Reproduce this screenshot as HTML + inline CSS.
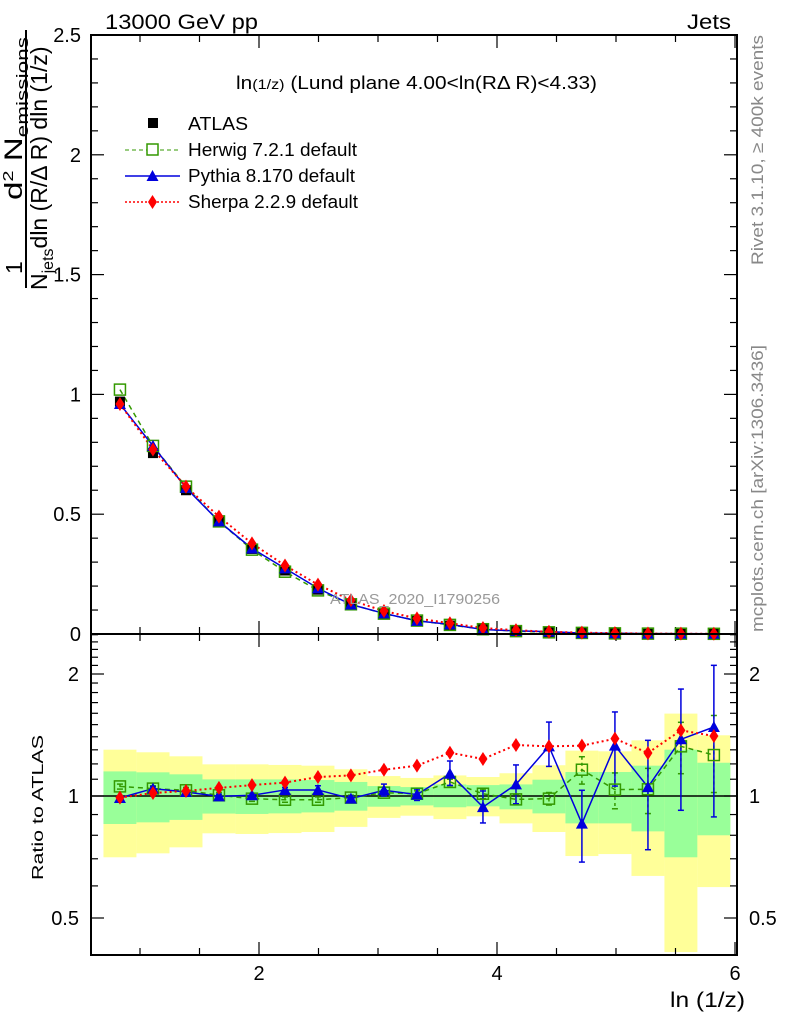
<!DOCTYPE html>
<html><head><meta charset="utf-8"><style>
html,body{margin:0;padding:0;background:#fff;}
svg{display:block;font-family:"Liberation Sans",sans-serif;}
</style></head><body>
<svg id="chart" width="786" height="1024" viewBox="0 0 786 1024">
<g id="bands"></g>
<g id="grid"></g>
<g id="series"></g>
<rect x="91" y="35" width="646" height="599" fill="none" stroke="#000" stroke-width="2"/>
<rect x="91" y="634" width="646" height="321" fill="none" stroke="#000" stroke-width="2"/>
<text x="105" y="29" font-size="21" textLength="153" lengthAdjust="spacingAndGlyphs">13000 GeV pp</text>
<text x="687" y="29" font-size="21" textLength="44" lengthAdjust="spacingAndGlyphs">Jets</text>
<text x="236" y="89" font-size="18" textLength="361" lengthAdjust="spacingAndGlyphs">ln<tspan font-size="14">(1/z)</tspan> (Lund plane 4.00&lt;ln(RΔ R)&lt;4.33)</text>
<text x="330" y="604" font-size="15" fill="#999" textLength="170" lengthAdjust="spacingAndGlyphs">ATLAS_2020_I1790256</text>
<text transform="translate(763,265) rotate(-90)" font-size="17" fill="#888" textLength="230" lengthAdjust="spacingAndGlyphs">Rivet 3.1.10, ≥ 400k events</text>
<text transform="translate(763,632) rotate(-90)" font-size="17" fill="#888" textLength="287" lengthAdjust="spacingAndGlyphs">mcplots.cern.ch [arXiv:1306.3436]</text>
<g font-size="23">
<text transform="translate(22,274) rotate(-90)">1</text>
<text transform="translate(22,200) rotate(-90)" font-size="25" textLength="163" lengthAdjust="spacingAndGlyphs">d<tspan font-size="15" dy="-9">2</tspan><tspan dy="9"> N</tspan><tspan font-size="17" dy="6">emissions</tspan></text>
<line x1="26" y1="30" x2="26" y2="288" stroke="#000" stroke-width="2"/>
<text transform="translate(47,290) rotate(-90)">N<tspan font-size="16" dy="6">jets</tspan><tspan dy="-6">dln (R/Δ R) dln (1/z)</tspan></text>
</g>
<text transform="translate(43,880) rotate(-90)" font-size="16" textLength="145" lengthAdjust="spacingAndGlyphs">Ratio to ATLAS</text>
<text x="670" y="1007" font-size="21" textLength="75" lengthAdjust="spacingAndGlyphs">ln (1/z)</text>
<g font-size="18">
<rect x="148" y="118" width="10" height="10" fill="#000"/>
<text x="188" y="130" textLength="60" lengthAdjust="spacingAndGlyphs">ATLAS</text>
<line x1="125" y1="150" x2="180" y2="150" stroke="#339900" stroke-dasharray="4,3"/>
<rect x="147" y="144" width="11" height="11" fill="#fff" stroke="#339900" stroke-width="1.5"/>
<text x="188" y="156" textLength="169" lengthAdjust="spacingAndGlyphs">Herwig 7.2.1 default</text>
<line x1="125" y1="176" x2="180" y2="176" stroke="#0000dd" stroke-width="1.5"/>
<polygon points="152.5,170 158.5,181 146.5,181" fill="#0000dd"/>
<text x="188" y="182" textLength="167" lengthAdjust="spacingAndGlyphs">Pythia 8.170 default</text>
<line x1="125" y1="202" x2="180" y2="202" stroke="#ff0000" stroke-width="1.5" stroke-dasharray="2,2"/>
<polygon points="152.5,195 157,202 152.5,209 148,202" fill="#ff0000"/>
<text x="188" y="208" textLength="170" lengthAdjust="spacingAndGlyphs">Sherpa 2.2.9 default</text>
</g>
</svg>
<script>
const binEdges=[0.693,0.970,1.248,1.525,1.802,2.080,2.357,2.634,2.911,3.189,3.466,3.743,4.021,4.298,4.575,4.852,5.130,5.407,5.684,5.961];
const atlasMain=[0.97,0.755,0.60,0.47,0.355,0.265,0.185,0.125,0.083,0.055,0.035,0.02,0.012,0.007,0.004,0.0025,0.0015,0.001,0.0006];
const herwigMain=[1.02,0.785,0.615,0.47,0.352,0.26,0.182,0.124,0.085,0.056,0.038,0.02,0.012,0.007,0.0046,0.0026,0.0016,0.0013,0.0008];
const pythiaMain=[0.96,0.785,0.61,0.47,0.357,0.274,0.191,0.123,0.086,0.055,0.04,0.019,0.013,0.01,0.0034,0.0033,0.0016,0.0014,0.0009];
const sherpaMain=[0.96,0.77,0.615,0.49,0.378,0.286,0.206,0.141,0.096,0.065,0.045,0.025,0.016,0.0093,0.0055,0.0035,0.0019,0.0015,0.0008];
const yellowHi=[1.301,1.282,1.253,1.197,1.197,1.193,1.188,1.164,1.120,1.108,1.124,1.114,1.138,1.191,1.294,1.289,1.372,1.597,1.412];
const greenHi=[1.150,1.144,1.131,1.099,1.099,1.099,1.095,1.083,1.058,1.052,1.068,1.064,1.068,1.097,1.146,1.146,1.188,1.301,1.208];
const greenLo=[0.853,0.861,0.873,0.905,0.903,0.906,0.911,0.920,0.941,0.948,0.938,0.943,0.927,0.906,0.856,0.856,0.818,0.706,0.800];
const yellowLo=[0.706,0.722,0.747,0.809,0.806,0.810,0.815,0.839,0.883,0.894,0.877,0.891,0.856,0.815,0.711,0.719,0.635,0.412,0.596];
const herwigRatio=[1.056,1.043,1.033,1.004,0.985,0.979,0.979,0.991,1.019,1.013,1.083,1.013,0.981,0.985,1.161,1.037,1.039,1.326,1.262];
const pythiaRatio=[0.989,1.043,1.023,0.998,1.004,1.035,1.035,0.985,1.033,1.008,1.135,0.939,1.068,1.326,0.855,1.331,1.052,1.380,1.480];
const sherpaRatio=[0.991,1.017,1.029,1.047,1.064,1.079,1.114,1.124,1.161,1.188,1.279,1.234,1.336,1.326,1.331,1.385,1.277,1.452,1.406];
const herwigErrHi=[1.07,1.06,1.05,1.02,1.0,0.995,0.995,1.005,1.035,1.03,1.10,1.04,1.01,1.02,1.25,1.14,1.17,1.52,1.58];
const herwigErrLo=[1.04,1.03,1.02,0.99,0.97,0.965,0.965,0.975,1.0,0.995,1.06,0.985,0.955,0.95,1.07,0.93,0.905,1.135,1.02];
const pythiaErrHi=[1.0,1.055,1.035,1.01,1.016,1.05,1.06,1.0,1.07,1.04,1.220,1.029,1.193,1.522,1.033,1.612,1.372,1.836,2.101];
const pythiaErrLo=[0.975,1.03,1.01,0.985,0.99,1.02,1.015,0.97,1.0,0.975,1.062,0.858,0.957,1.183,0.687,1.058,0.737,0.922,0.888];
const xTicksMajor=[2,4,6];
const yMainTicks=[0,0.5,1,1.5,2,2.5];
const yMainLabels=["0","0.5","1","1.5","2","2.5"];
const ratioTicks=[0.5,1,2];
const ratioLabels=["0.5","1","2"];

const NS="http://www.w3.org/2000/svg";
const X=v=>21+119*v;
const YM=v=>634-239.6*v;
const YR=r=>796-122*Math.log2(r);
const clipR=y=>Math.max(634,Math.min(955,y));
function mk(parent,tag,attrs){const e=document.createElementNS(NS,tag);for(const k in attrs)e.setAttribute(k,attrs[k]);parent.appendChild(e);return e;}
const gB=document.getElementById('bands'),gG=document.getElementById('grid'),gS=document.getElementById('series');

for(let i=0;i<yellowHi.length;i++){
  const x1=X(binEdges[i]),x2=X(binEdges[i+1]);
  let r=mk(gB,'rect',{x:x1,y:clipR(YR(yellowHi[i])),width:x2-x1,height:clipR(YR(yellowLo[i]))-clipR(YR(yellowHi[i])),fill:'#ffff99'});
  
  
  r=mk(gB,'rect',{x:x1,y:YR(greenHi[i]),width:x2-x1,height:YR(greenLo[i])-YR(greenHi[i]),fill:'#99ff99'});
  
  
}
let ul=mk(gG,'line',{x1:91,x2:737,y1:YR(1),y2:YR(1),stroke:'#000','stroke-width':1.5});



for(let v=1;v<=6.001;v+=0.5){
  const major=xTicksMajor.some(m=>Math.abs(m-v)<1e-6);
  const L=major?13:7;
  for(const [yb,yt] of [[634,35],[955,634]]){
    mk(gG,'line',{x1:X(v),x2:X(v),y1:yb,y2:yb-L,stroke:'#000','stroke-width':1.2});
    mk(gG,'line',{x1:X(v),x2:X(v),y1:yt,y2:yt+L,stroke:'#000','stroke-width':1.2});
  }
}
xTicksMajor.forEach(v=>{const t=mk(gG,'text',{x:X(v),y:980,'font-size':20,'text-anchor':'middle'});t.textContent=v;

});
for(let k=0;k<=25;k++){const v=k/10;const major=k%5===0;const L=major?13:7;
  mk(gG,'line',{x1:91,x2:91+L,y1:YM(v),y2:YM(v),stroke:'#000','stroke-width':1.2});
  mk(gG,'line',{x1:737,x2:737-L,y1:YM(v),y2:YM(v),stroke:'#000','stroke-width':1.2});}
yMainTicks.forEach((v,i)=>{const t=mk(gG,'text',{x:81,y:YM(v)+7,'font-size':20,'text-anchor':'end'});t.textContent=yMainLabels[i];

});
for(let k=5;k<=25;k++){const v=k/10;if(YR(v)<634||YR(v)>955)continue;const major=(k===5||k===10||k===20);const L=major?13:7;
  mk(gG,'line',{x1:91,x2:91+L,y1:YR(v),y2:YR(v),stroke:'#000','stroke-width':1.2});
  mk(gG,'line',{x1:737,x2:737-L,y1:YR(v),y2:YR(v),stroke:'#000','stroke-width':1.2});}
ratioTicks.forEach((v,i)=>{let t=mk(gG,'text',{x:79,y:YR(v)+7,'font-size':20,'text-anchor':'end'});t.textContent=ratioLabels[i];


t=mk(gG,'text',{x:749,y:YR(v)+7,'font-size':20});t.textContent=ratioLabels[i];

});

const centers=binEdges.slice(0,-1).map((e,i)=>(e+binEdges[i+1])/2);
function clipR2(y,yf){return yf===YR?clipR(y):y;}
function line(vals,yf,color,dash,name,w){
  const pts=vals.map((v,i)=>X(centers[i])+','+clipR2(yf(v),yf)).join(' ');
  const p=mk(gS,'polyline',{points:pts,fill:'none',stroke:color,'stroke-width':w||1.5,'stroke-dasharray':dash||'none'});
  
  
}
function marker(kind,x,y,color,name){
  let e;
  if(kind==='sq') e=mk(gS,'rect',{x:x-5,y:y-5,width:10,height:10,fill:color});
  if(kind==='osq') e=mk(gS,'rect',{x:x-5.5,y:y-5.5,width:11,height:11,fill:'none',stroke:color,'stroke-width':1.5});
  if(kind==='tri') e=mk(gS,'polygon',{points:`${x},${y-6} ${x+6},${y+5} ${x-6},${y+5}`,fill:color});
  if(kind==='dia') e=mk(gS,'polygon',{points:`${x},${y-7} ${x+4.5},${y} ${x},${y+7} ${x-4.5},${y}`,fill:color});
  
  
}
function errbar(x,hi,lo,color,dash,name){
  const g=mk(gS,'g',{stroke:color,'stroke-width':1.5,'stroke-dasharray':dash||'none'});
  
  
  const y1=clipR(YR(hi)),y2=clipR(YR(lo));
  mk(g,'line',{x1:x,x2:x,y1:y1,y2:y2});
  mk(g,'line',{x1:x-3,x2:x+3,y1:y1,y2:y1,'stroke-dasharray':'none'});
  mk(g,'line',{x1:x-3,x2:x+3,y1:y2,y2:y2,'stroke-dasharray':'none'});
}
line(herwigMain,YM,'#339900','5,4','herwig-main-line');
line(pythiaMain,YM,'#0000dd','none','pythia-main-line');
line(sherpaMain,YM,'#ff0000','2,3','sherpa-main-line',2);
atlasMain.forEach((v,i)=>marker('sq',X(centers[i]),YM(v),'#000','atlas-point'));
herwigMain.forEach((v,i)=>marker('osq',X(centers[i]),YM(v),'#339900','herwig-point'));
pythiaMain.forEach((v,i)=>marker('tri',X(centers[i]),YM(v),'#0000dd','pythia-point'));
sherpaMain.forEach((v,i)=>marker('dia',X(centers[i]),YM(v),'#ff0000','sherpa-point'));
herwigRatio.forEach((v,i)=>errbar(X(centers[i]),herwigErrHi[i],herwigErrLo[i],'#339900','3,3','herwig-error-bar'));
pythiaRatio.forEach((v,i)=>errbar(X(centers[i]),pythiaErrHi[i],pythiaErrLo[i],'#0000dd','none','pythia-error-bar'));
line(herwigRatio,YR,'#339900','5,4','herwig-ratio-line');
line(pythiaRatio,YR,'#0000dd','none','pythia-ratio-line');
line(sherpaRatio,YR,'#ff0000','2,3','sherpa-ratio-line',2);
herwigRatio.forEach((v,i)=>marker('osq',X(centers[i]),YR(v),'#339900','herwig-ratio-point'));
pythiaRatio.forEach((v,i)=>marker('tri',X(centers[i]),YR(v),'#0000dd','pythia-ratio-point'));
sherpaRatio.forEach((v,i)=>marker('dia',X(centers[i]),YR(v),'#ff0000','sherpa-ratio-point'));
</script>
</body></html>
